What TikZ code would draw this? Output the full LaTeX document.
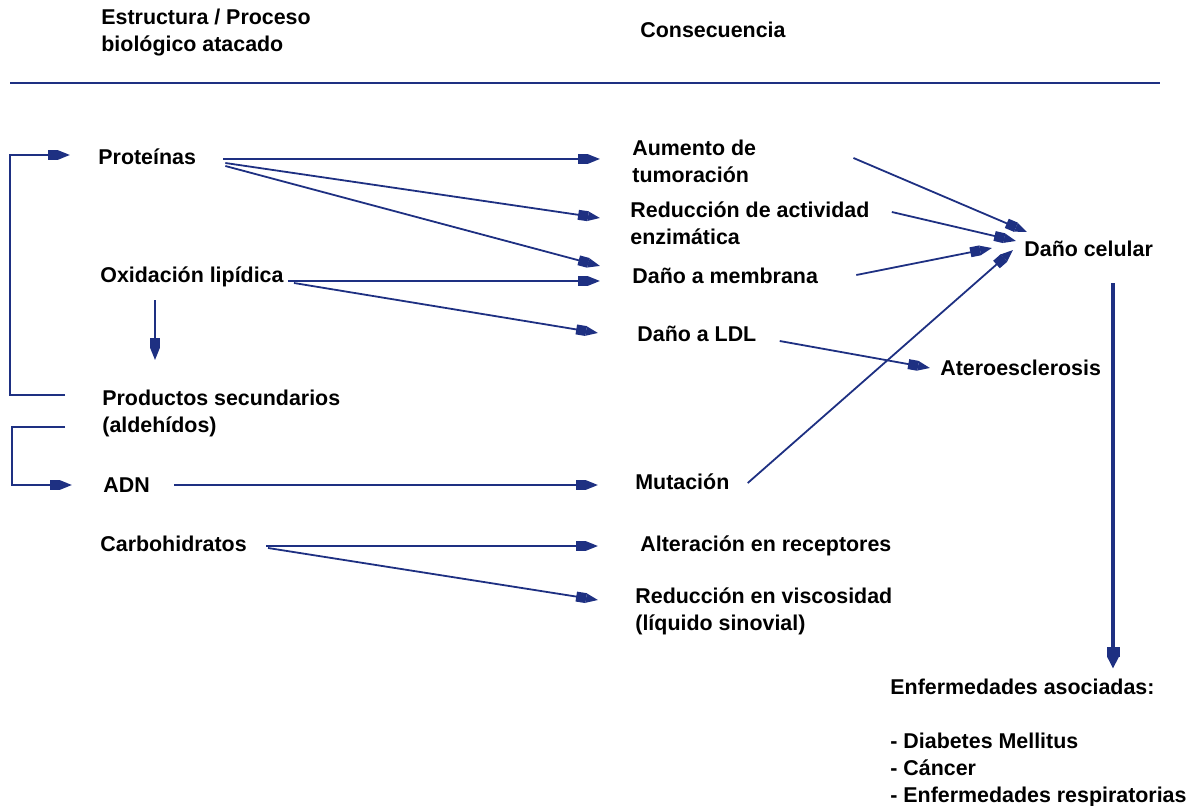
\documentclass[tikz,border=0pt]{standalone}
\usepackage{fontspec}
\setmainfont{Liberation Sans}
\usetikzlibrary{arrows.meta,calc}
\definecolor{azul}{RGB}{30,48,130}
\tikzset{
    txt/.style={anchor=west,inner sep=0pt,align=left,font=\bfseries\fontsize{10.7}{13.5}\selectfont},
    flecha/.style={draw=azul,line width=0.9pt,-{Rectangle[length=5pt,width=5pt]Triangle[length=6pt,width=4.5pt]}},
    gruesa/.style={draw=azul,line width=2pt,-{Rectangle[length=5pt,width=6.5pt]Triangle[length=6pt,width=5.5pt]}}
}

\begin{document}
\begin{tikzpicture}[x=0.5pt,y=-0.5pt]
    \useasboundingbox (0,0) rectangle (1197,806);
    \node[txt] (TituloA) at (101,33) {Estructura / Proceso\\biológico atacado};
    \node[txt] (TituloB) at (640,30) {Consecuencia};
    \draw[azul,line width=1pt] (10,83) coordinate(RuleStart) -- (1160,83) coordinate(RuleEnd);

    \node[txt] (Proteinas) at (98,157) {Proteínas};
    \node[txt] (Oxidacion) at (100,277) {Oxidación lipídica};
    \node[txt] (Productos) at (102,413) {Productos secundarios\\(aldehídos)};
    \node[txt] (ADN) at (103,485) {ADN};
    \node[txt] (Carbohidratos) at (100,544) {Carbohidratos};

    \node[txt] (Aumento) at (632,161) {Aumento de\\tumoración};
    \node[txt] (Reduccion) at (630,223) {Reducción de actividad\\enzimática};
    \node[txt] (Membrana) at (632,276) {Daño a membrana};
    \node[txt] (LDL) at (637,334) {Daño a LDL};
    \node[txt] (Ateros) at (940,368) {Ateroesclerosis};
    \node[txt] (Mutacion) at (635,482) {Mutación};
    \node[txt] (Receptores) at (640,546) {Alteración en receptores};
    \node[txt] (Viscosidad) at (635,611) {Reducción en viscosidad\\(líquido sinovial)};
    \node[txt] (Celular) at (1024,249) {Daño celular};
    \node[txt] (Enfermedades) at (890,743) {Enfermedades asociadas:\\[13.5pt]- Diabetes Mellitus\\- Cáncer\\- Enfermedades respiratorias};

    \draw[flecha] ($(Proteinas.east)+(27,2)$) -- ($(Aumento.west)+(-32,-2)$);
    \draw[flecha] ($(Proteinas.east)+(29,6)$) -- ($(Reduccion.west)+(-30,-5)$);
    \draw[flecha] ($(Proteinas.east)+(29,9)$) -- ($(Membrana.west)+(-32,-10)$);
    \draw[flecha] ($(Oxidacion.east)+(4,4)$) -- ($(Membrana.west)+(-32,5)$);
    \draw[flecha] ($(Oxidacion.east)+(10,6)$) -- ($(LDL.west)+(-39,-1)$);
    \draw[flecha] ($(LDL.east)+(23,7)$) -- ($(Ateros.west)+(-10,0)$);
    \draw[flecha] ($(ADN.east)+(24,0)$) -- ($(Mutacion.west)+(-37,3)$);
    \draw[flecha] ($(Carbohidratos.east)+(19,2)$) -- ($(Receptores.west)+(-42,0)$);
    \draw[flecha] ($(Carbohidratos.east)+(21,4)$) -- ($(Viscosidad.west)+(-37,-11)$);

    \draw[flecha] ($(Aumento.east)+(97,-3)$) -- ($(Celular.west)+(3,-17)$);
    \draw[flecha] ($(Reduccion.east)+(22,-11)$) -- ($(Celular.west)+(-8,-8)$);
    \draw[flecha] ($(Membrana.east)+(38,-1)$) -- ($(Celular.west)+(-32,-1)$);
    \draw[flecha] ($(Mutacion.east)+(18,1)$) -- ($(Celular.west)+(-11,1)$);
    \draw[gruesa] ($(Celular.south west)+(89,26)$) -- ($(Enfermedades.north west)+(223,-10)$);

    \draw[flecha] ($(Oxidacion.south west)+(55,13)$) -- ($(Productos.north west)+(53,-29)$);
    \draw[flecha] ($(Productos.west)+(-37,-18)$) -| ($(Proteinas.west)+(-88,-2)$) -- ($(Proteinas.west)+(-28,-2)$);
    \draw[flecha] ($(Productos.west)+(-37,14)$) -| ($(ADN.west)+(-91,0)$) -- ($(ADN.west)+(-31,0)$);
\end{tikzpicture}
\end{document}
